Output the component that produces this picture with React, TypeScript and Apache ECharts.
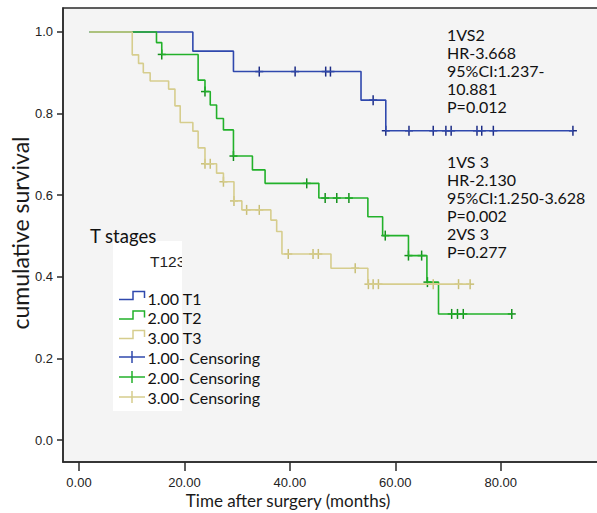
import React, { useEffect, useRef } from "react";
import * as echarts from "echarts";

const xTicks = [0, 20, 40, 60, 80];
const yTicks = [0, 0.2, 0.4, 0.6, 0.8, 1.0];

const t1Times = [2, 21.6, 29.3, 53.5, 58.2, 93.7];
const t1Surv = [1, 0.953, 0.903, 0.833, 0.758, 0.758];
const t1Censor = [34.2, 41.0, 46.8, 47.7, 55.8, 58.2, 62.6, 67.2, 69.6, 70.6, 75.5, 76.4, 78.6, 93.7];

const t2Times = [2, 14.7, 15.7, 22.6, 23.9, 24.9, 26.1, 27.4, 29.3, 32.9, 35.3, 45.5, 54.8, 57.6, 62.5, 66.0, 68.2, 82.1];
const t2Surv = [1, 0.974, 0.945, 0.882, 0.854, 0.821, 0.788, 0.76, 0.696, 0.662, 0.629, 0.593, 0.547, 0.501, 0.452, 0.387, 0.309, 0.309];
const t2Censor = [15.7, 23.9, 29.3, 43.2, 46.7, 48.9, 51.2, 58.1, 62.5, 65.0, 66.1, 70.7, 71.8, 72.9, 82.1];

const t3Times = [2, 10.1, 11.3, 12.2, 13.5, 17.0, 18.2, 19.2, 21.6, 22.6, 23.9, 26.1, 27.4, 29.4, 30.9, 36.4, 37.5, 38.5, 47.8, 54.8, 74.2];
const t3Surv = [1, 0.944, 0.923, 0.9, 0.88, 0.86, 0.819, 0.778, 0.757, 0.716, 0.677, 0.654, 0.633, 0.586, 0.564, 0.539, 0.511, 0.456, 0.421, 0.382, 0.382];
const t3Censor = [23.9, 24.9, 27.4, 29.4, 31.8, 34.2, 39.7, 44.4, 45.4, 52.4, 54.9, 55.8, 56.8, 67.2, 72.0, 74.2];

const groupNames = ["1.00 T1", "2.00 T2", "3.00 T3"];
const censorNames = ["1.00- Censoring", "2.00- Censoring", "3.00- Censoring"];
const note1 = ["1VS2", "HR-3.668", "95%CI:1.237-", "10.881", "P=0.012"];
const note2 = ["1VS 3", "HR-2.130", "95%CI:1.250-3.628", "P=0.002", "2VS 3", "P=0.277"];

const lineColors = ["#2f48ad", "#22b12a", "#d6cd8d"];
const censorColors = ["#1c2c86", "#14901c", "#c9bf76"];

function survAt(times: number[], surv: number[], t: number) {
  let v = surv[0];
  for (let i = 0; i < times.length; i++) if (times[i] <= t) v = surv[i];
  return v;
}

export default function App() {
  const ref = useRef<HTMLDivElement>(null);
  useEffect(() => {
    document.body.style.margin = "0";
    const chart = echarts.init(ref.current!, undefined, { renderer: "svg" });
    const groups = [
      [t1Times, t1Surv, t1Censor],
      [t2Times, t2Surv, t2Censor],
      [t3Times, t3Surv, t3Censor],
    ];
    const series: any[] = [];
    groups.forEach((g, gi) => {
      const [times, surv, cens] = g as number[][];
      series.push({
        type: "line",
        step: "end",
        data: times.map((t, i) => [t, surv[i]]),
        showSymbol: false,
        symbol: "none",
        lineStyle: { color: lineColors[gi], width: 1.6 },
        z: 2 + gi,
      });
      series.push({
        type: "custom",
        data: cens.map((t) => [t, survAt(times, surv, t)]),
        z: 2 + gi,
        renderItem: (params: any, api: any) => {
          const p = api.coord([api.value(0), api.value(1)]);
          const st = { stroke: censorColors[gi], lineWidth: 1.5 };
          return {
            type: "group",
            children: [
              { type: "line", shape: { x1: p[0] - 4, y1: p[1], x2: p[0] + 4, y2: p[1] }, style: st },
              { type: "line", shape: { x1: p[0], y1: p[1] - 5, x2: p[0], y2: p[1] + 5 }, style: st },
            ],
          };
        },
      });
    });

    const font = "Lato";
    const legendY = [298, 317.5, 337, 357, 377, 397];
    const graphics: any[] = [];
    graphics.push({
      type: "text",
      x: 20,
      y: 233,
      rotation: Math.PI / 2,
      style: { text: "cumulative survival", font: `23px ${font}`, fill: "#1a1a1a", align: "center", verticalAlign: "middle" },
    });
    graphics.push({
      type: "text",
      x: 288,
      y: 500,
      style: { text: "Time after surgery (months)", font: `17px ${font}`, fill: "#1a1a1a", align: "center", verticalAlign: "middle" },
    });
    graphics.push({
      type: "text",
      x: 447,
      y: 25,
      style: { text: note1.join("\n"), font: `16px ${font}`, lineHeight: 18, fill: "#111", align: "left", verticalAlign: "top" },
    });
    graphics.push({
      type: "text",
      x: 447,
      y: 152,
      style: { text: note2.join("\n"), font: `16px ${font}`, lineHeight: 18, fill: "#111", align: "left", verticalAlign: "top" },
    });
    graphics.push({ type: "rect", shape: { x: 113, y: 241, width: 69, height: 170 }, style: { fill: "#ffffff" }, z: 10 });
    graphics.push({
      type: "text",
      x: 90,
      y: 236,
      z: 11,
      style: { text: "T stages", font: `18.5px ${font}`, fill: "#111", align: "left", verticalAlign: "middle" },
    });
    graphics.push({
      type: "text",
      x: 150,
      y: 261,
      z: 11,
      style: { text: "T123", font: `15.5px "Liberation Sans"`, fill: "#222", align: "left", verticalAlign: "middle" },
    });
    graphics.push({ type: "rect", shape: { x: 182, y: 250, width: 12, height: 20 }, style: { fill: "#f4f4f4" }, z: 12 });
    for (let i = 0; i < 3; i++) {
      const yc = legendY[i];
      graphics.push({
        type: "polyline",
        z: 11,
        shape: { points: [[119, yc + 1.5], [133, yc + 1.5], [133, yc - 6.5], [144.5, yc - 6.5], [144.5, yc]] },
        style: { stroke: lineColors[i], lineWidth: 1.5, fill: null },
      });
      graphics.push({
        type: "text",
        x: 147.5,
        y: yc,
        z: 11,
        style: { text: groupNames[i], font: `16px ${font}`, fill: "#111", align: "left", verticalAlign: "middle" },
      });
    }
    for (let i = 0; i < 3; i++) {
      const yc = legendY[i + 3];
      graphics.push({ type: "line", z: 11, shape: { x1: 119, y1: yc, x2: 145, y2: yc }, style: { stroke: lineColors[i], lineWidth: 1.5 } });
      graphics.push({ type: "line", z: 11, shape: { x1: 132, y1: yc - 6, x2: 132, y2: yc + 6 }, style: { stroke: lineColors[i], lineWidth: 1.5 } });
      graphics.push({
        type: "text",
        x: 147.5,
        y: yc,
        z: 11,
        style: { text: censorNames[i], font: `16px ${font}`, fill: "#111", align: "left", verticalAlign: "middle" },
      });
    }

    chart.setOption({
      animation: false,
      backgroundColor: "#ffffff",
      grid: {
        left: 63,
        top: 8,
        width: 560,
        height: 454,
        outerBoundsMode: "none",
        containLabel: false,
        show: true,
        backgroundColor: "#f4f4f4",
        borderColor: "#2a2a2a",
        borderWidth: 1.5,
      },
      xAxis: {
        type: "value",
        min: -3.035,
        max: 103.2,
        axisLine: { show: true, onZero: false, lineStyle: { color: "#2a2a2a", width: 1.5 } },
        axisTick: { show: true, inside: false, length: 9, customValues: xTicks, lineStyle: { color: "#2a2a2a", width: 1.5 } },
        axisLabel: {
          customValues: xTicks,
          formatter: (v: number) => v.toFixed(2),
          margin: 14,
          color: "#222",
          fontFamily: "Liberation Sans",
          fontSize: 13,
        },
        splitLine: { show: false },
      },
      yAxis: {
        type: "value",
        min: -0.0539,
        max: 1.0588,
        axisLine: { show: true, onZero: false, lineStyle: { color: "#2a2a2a", width: 1.5 } },
        axisTick: { show: true, inside: false, length: 6, customValues: yTicks, lineStyle: { color: "#2a2a2a", width: 1.5 } },
        axisLabel: {
          customValues: yTicks,
          formatter: (v: number) => v.toFixed(1),
          margin: 10,
          color: "#222",
          fontFamily: "Liberation Sans",
          fontSize: 13,
        },
        splitLine: { show: false },
      },
      series,
      graphic: graphics,
    });
    return () => chart.dispose();
  }, []);
  return <div ref={ref} style={{ position: "absolute", left: 0, top: 0, width: 597, height: 513 }} />;
}
